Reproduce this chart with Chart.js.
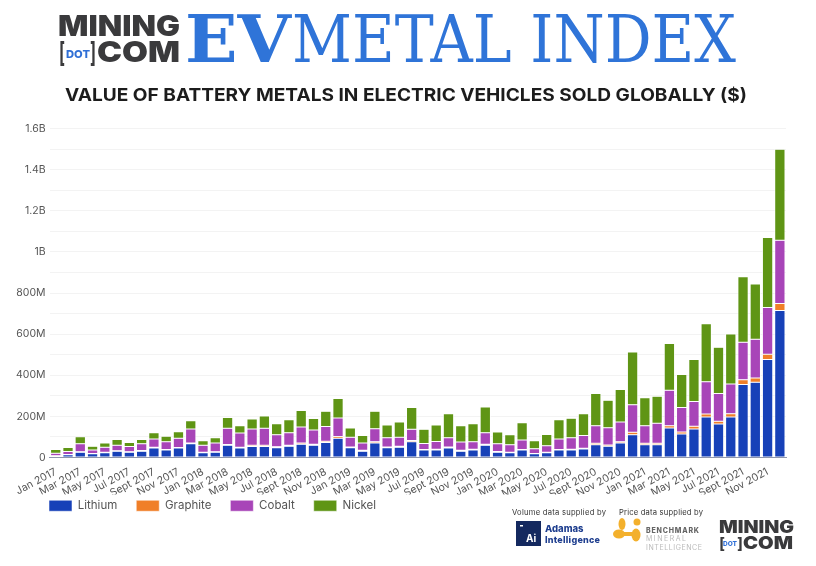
<!DOCTYPE html>
<html>
<head>
<meta charset="utf-8">
<title>EV Metal Index</title>
<script src="https://cdn.jsdelivr.net/npm/chart.js@4"></script>
<style>
html,body{margin:0;padding:0;background:#fff;}
#wrap{position:relative;width:816px;height:566px;overflow:hidden;}
#chart{position:absolute;left:0;top:0;}
#art{position:absolute;left:0;top:0;}
</style>
</head>
<body>
<div id="wrap">
<canvas id="chart" width="816" height="566"></canvas>
<svg id="art" width="816" height="566" xmlns="http://www.w3.org/2000/svg">
	<!-- header logo -->
	<text x="58" y="36" font-family="Inter" font-weight="900" font-size="29" fill="#3a3a3c" textLength="122" lengthAdjust="spacingAndGlyphs">MINING</text>
	<text x="59" y="62" font-family="Inter" font-weight="700" font-size="27" fill="#3a3a3c" textLength="6" lengthAdjust="spacingAndGlyphs">[</text>
	<text x="66" y="58" font-family="Inter" font-weight="800" font-size="11" fill="#2f6fd6" textLength="24" lengthAdjust="spacingAndGlyphs">DOT</text>
	<text x="90" y="62" font-family="Inter" font-weight="700" font-size="27" fill="#3a3a3c" textLength="6" lengthAdjust="spacingAndGlyphs">]</text>
	<text x="97" y="62" font-family="Inter" font-weight="900" font-size="29" fill="#3a3a3c" textLength="83" lengthAdjust="spacingAndGlyphs">COM</text>
	<text x="185" y="62" font-family="DejaVu Serif" font-weight="700" font-size="66" fill="#2f74d8" textLength="106" lengthAdjust="spacingAndGlyphs">EV</text>
	<text x="292" y="62" font-family="DejaVu Serif" font-size="66" fill="#2f74d8" textLength="444" lengthAdjust="spacingAndGlyphs">METAL INDEX</text>
	<!-- title -->
	<text x="406" y="100.5" text-anchor="middle" font-family="Inter" font-weight="700" font-size="17.5" fill="#1c1c1c" textLength="682" lengthAdjust="spacingAndGlyphs">VALUE OF BATTERY METALS IN ELECTRIC VEHICLES SOLD GLOBALLY ($)</text>
	<!-- footer -->
	<text x="512" y="515" font-family="Inter" font-size="7.6" fill="#333" textLength="94">Volume data supplied by</text>
	<rect x="516" y="521" width="25" height="25" fill="#14295f"/>
	<rect x="520" y="525" width="3" height="1.5" fill="#fff"/>
	<text x="526" y="542" font-family="Inter" font-weight="700" font-size="10" fill="#fff">Ai</text>
	<text x="545" y="532" font-family="Inter" font-weight="800" font-size="9.5" fill="#1f3f8f">Adamas</text>
	<text x="545" y="543" font-family="Inter" font-weight="800" font-size="9" fill="#1f3f8f" textLength="55">Intelligence</text>
	<text x="619" y="515" font-family="Inter" font-size="7.6" fill="#333" textLength="84">Price data supplied by</text>
	<ellipse cx="622" cy="524" rx="3.5" ry="6" fill="#f3b02c"/>
	<circle cx="637" cy="522" r="3.5" fill="#f3b02c"/>
	<ellipse cx="619" cy="534" rx="6" ry="4.5" fill="#f3b02c"/>
	<ellipse cx="636" cy="535" rx="4.5" ry="6.5" fill="#f3b02c"/>
	<rect x="620" y="532" width="15" height="4" fill="#f3b02c"/>
	<text x="646" y="533" font-family="Inter" font-weight="800" font-size="7" fill="#666" textLength="53">BENCHMARK</text>
	<text x="646" y="541" font-family="Inter" font-size="7" fill="#bbb" textLength="40">MINERAL</text>
	<text x="646" y="550" font-family="Inter" font-size="7" fill="#bbb" textLength="56">INTELLIGENCE</text>
	<text x="719" y="533" font-family="Inter" font-weight="900" font-size="18" fill="#3a3a3c" textLength="75" lengthAdjust="spacingAndGlyphs">MINING</text>
	<text x="719" y="549" font-family="Inter" font-weight="700" font-size="16" fill="#3a3a3c">[</text>
	<text x="723" y="546" font-family="Inter" font-weight="800" font-size="6.5" fill="#2f6fd6" textLength="14" lengthAdjust="spacingAndGlyphs">DOT</text>
	<text x="737" y="549" font-family="Inter" font-weight="700" font-size="16" fill="#3a3a3c">]</text>
	<text x="743" y="549" font-family="Inter" font-weight="900" font-size="18" fill="#3a3a3c" textLength="50" lengthAdjust="spacingAndGlyphs">COM</text>
</svg>
</div>
<script>
const months = ['Jan','Feb','Mar','Apr','May','Jun','Jul','Aug','Sept','Oct','Nov','Dec'];
const years = [2017,2018,2019,2020,2021];
let categories = [];
for(let y=0; y<years.length; y++){
	for(let m=0; m<months.length; m++){
		categories.push(months[m] + ' ' + years[y]);
	}
}

// values in millions of dollars
const lithium = [7,13,26,18,23,31,26,31,46,36,46,67,
	23,26,59,46,54,54,47,55,65,59,73,94,
	47,31,70,47,50,77,36,36,46,31,36,59,
	26,23,36,18,23,36,36,41,62,55,70,111,
	62,62,143,114,138,197,163,197,355,366,476,715];
const graphite = [1,1,2,1,2,2,2,3,4,3,3,4,
	2,2,4,4,5,6,5,5,5,6,6,8,
	4,4,7,4,5,6,3,4,5,4,4,6,
	3,3,3,2,3,3,4,4,7,6,7,12,
	7,7,12,10,14,15,13,16,23,21,26,34];
const cobalt = [13,15,39,18,25,27,26,33,40,38,45,67,
	35,42,79,69,79,82,59,60,78,69,72,90,
	48,35,63,45,44,54,29,38,45,40,37,55,
	38,36,46,22,31,51,56,62,86,84,96,134,
	86,97,172,119,120,156,135,144,182,188,228,308];
const nickel = [18,20,34,18,20,28,19,21,30,26,31,41,
	21,26,53,36,49,60,53,64,80,56,74,95,
	44,37,85,62,74,106,69,80,117,80,87,126,
	57,49,84,39,55,94,95,106,156,133,158,256,
	135,132,227,161,205,282,225,244,319,269,340,442];
const yMax = 1600;

const textColor = '#555';
const barBorder = 'rgba(255,255,255,0.7)';

function yLabel(v){
	if(v % 200 !== 0) return '';
	if(v === 0) return '0';
	if(v < 1000) return v + 'M';
	return (v / 1000) + 'B';
}

function series(name, values, color){
	return {label:name, data:values, backgroundColor:color, borderColor:barBorder, borderWidth:{top:0.5, bottom:0.5, left:1, right:1}, borderSkipped:false, stack:'a'};
}

// the legend sits left aligned under the plot, and closer than Chart.js puts it
const moveLegend = {
	id: 'moveLegend',
	afterLayout: function(c){
		c.legend.left += 30;
		c.legend.top -= 13.5;
	}
};

const ctx = document.querySelector('#chart');
ctx.getContext('2d').letterSpacing = '0.4px';
const chart = new Chart(ctx, {
	type: 'bar',
	data: {
		labels: categories,
		datasets: [
			series('Lithium', lithium, '#1741b8'),
			series('Graphite', graphite, '#f07f28'),
			series('Cobalt', cobalt, '#a845b8'),
			series('Nickel', nickel, '#5f9515')
		]
	},
	options: {
		responsive: false,
		animation: false,
		layout: {padding: {left:0, right:30, top:128.5, bottom:31}},
		datasets: {bar: {barPercentage:0.92, categoryPercentage:1}},
		plugins: {
			tooltip: {enabled:false},
			legend: {
				position: 'bottom',
				align: 'start',
				labels: {boxWidth:23, boxHeight:11, padding:19, color:textColor, font:{family:'Inter', size:11.5}}
			}
		},
		scales: {
			x: {
				stacked: true,
				afterFit: function(s){ s.height = 37; },
				grid: {display:false},
				border: {color:'#8f96ad', width:1},
				ticks: {
					autoSkip: false,
					maxRotation: 28,
					minRotation: 28,
					padding: 0,
					color: textColor,
					font: {family:'Inter', size:10.5},
					callback: function(v, i){ return i % 2 === 0 ? categories[i] : null; }
				}
			},
			y: {
				stacked: true,
				min: 0,
				max: yMax,
				afterFit: function(s){ s.width = 49.6; },
				grid: {color:'#f3f3f3', drawTicks:false},
				border: {display:false},
				ticks: {
					stepSize: 100,
					autoSkip: false,
					padding: 4,
					color: textColor,
					font: {family:'Inter', size:10.5},
					callback: yLabel
				}
			}
		}
	},
	plugins: [moveLegend]
});
console.log(chart.chartArea);
</script>
</body>
</html>
